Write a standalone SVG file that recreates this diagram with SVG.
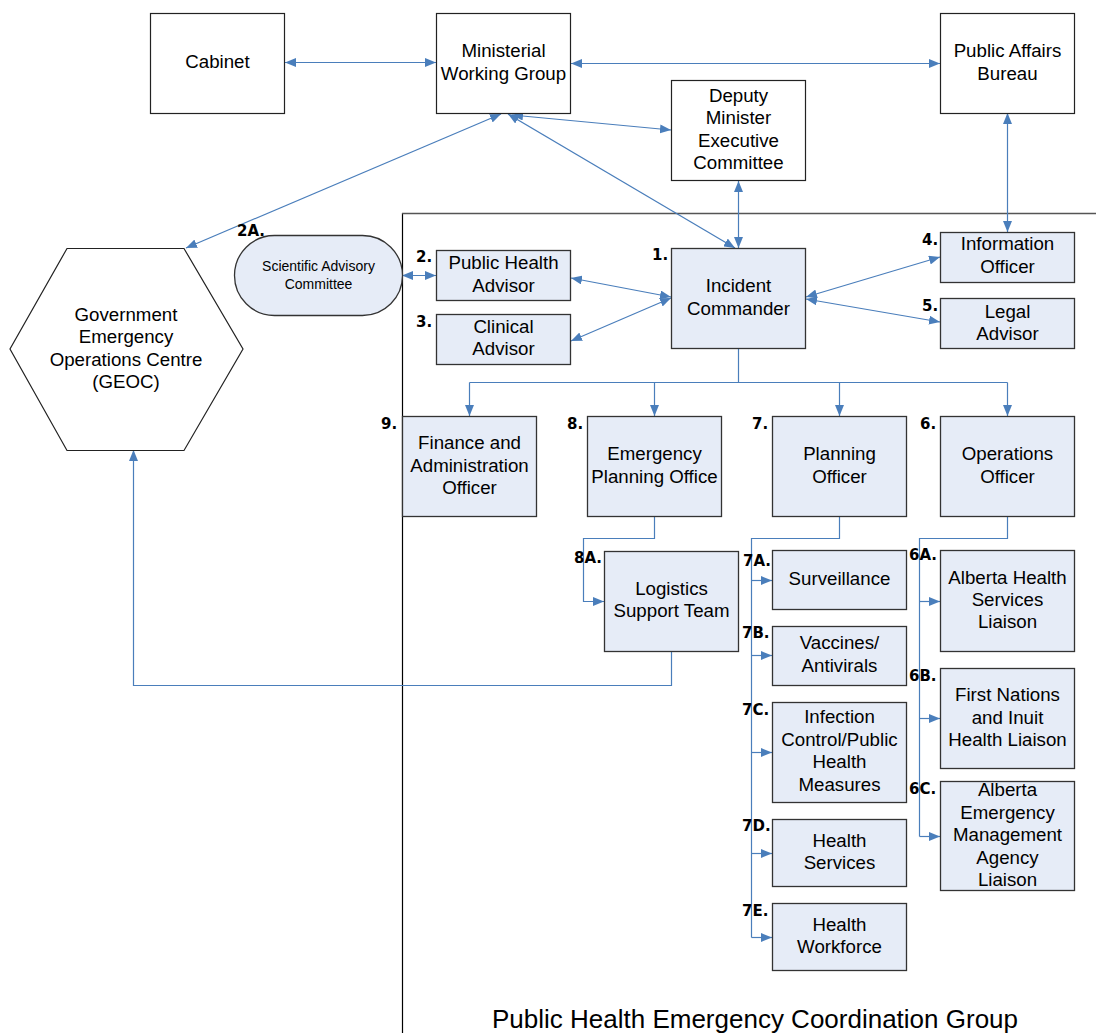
<svg xmlns="http://www.w3.org/2000/svg" width="1096" height="1033" viewBox="0 0 1096 1033">
<style>
.w{fill:#fff;stroke:#222;stroke-width:1.2}
.b{fill:#E6ECF7;stroke:#333;stroke-width:1.3}
.t{font-family:"Liberation Sans",Arial,sans-serif;font-size:18.7px;fill:#000;text-anchor:middle}
.s{font-family:"Liberation Sans",Arial,sans-serif;font-size:14px;fill:#000;text-anchor:middle}
.n{font-family:"DejaVu Sans",sans-serif;font-weight:bold;font-size:15px;fill:#000}
.c{fill:none;stroke:#4A7EBB;stroke-width:1.2}
.a{marker-end:url(#ah)}
.aa{marker-start:url(#ah);marker-end:url(#ah)}
</style>
<defs>
<marker id="ah" markerUnits="userSpaceOnUse" markerWidth="11" markerHeight="9" refX="11" refY="4.5" orient="auto-start-reverse">
<path d="M0,0 L11,4.5 L0,9 z" fill="#4A7EBB"/>
</marker>
</defs>
<rect width="1096" height="1033" fill="#fff"/>
<g id="frame">
<line x1="402.5" y1="213" x2="402.5" y2="1033" stroke="#000" stroke-width="1.2"/>
<line x1="402" y1="213.5" x2="1096" y2="213.5" stroke="#555" stroke-width="1.5"/>
<text x="755" y="1028" font-family="'Liberation Sans',Arial,sans-serif" font-size="26" text-anchor="middle">Public Health Emergency Coordination Group</text>
</g>
<g id="connectors">
<line class="c aa" x1="285" y1="62.5" x2="436" y2="62.5"/>
<line class="c aa" x1="571" y1="63.5" x2="940" y2="63.5"/>
<line class="c aa" x1="501" y1="114" x2="186" y2="248"/>
<line class="c aa" x1="508" y1="114" x2="735" y2="248"/>
<line class="c aa" x1="512" y1="115" x2="671" y2="130"/>
<line class="c aa" x1="738.5" y1="181" x2="738.5" y2="248"/>
<line class="c aa" x1="1007.5" y1="113" x2="1007.5" y2="232"/>
<line class="c aa" x1="402" y1="275.5" x2="436" y2="275.5"/>
<line class="c aa" x1="571" y1="278" x2="671" y2="297"/>
<line class="c aa" x1="571" y1="341" x2="671" y2="298"/>
<line class="c aa" x1="806" y1="297" x2="940" y2="257"/>
<line class="c aa" x1="806" y1="299" x2="940" y2="322"/>
<path class="c" d="M738.5,349 V382.5 M469.5,382.5 H1007.5"/>
<path class="c a" d="M469.5,382.5 V416"/>
<path class="c a" d="M654.5,382.5 V416"/>
<path class="c a" d="M839.5,382.5 V416"/>
<path class="c a" d="M1007.5,382.5 V416"/>
<path class="c a" d="M654.5,517 V538.5 H583.5 V601.5 H604"/>
<path class="c" d="M839.5,517 V538.5 H751.5 V937.5"/>
<path class="c a" d="M751.5,580.5 H772"/>
<path class="c a" d="M751.5,655.5 H772"/>
<path class="c a" d="M751.5,752.5 H772"/>
<path class="c a" d="M751.5,853.5 H772"/>
<path class="c a" d="M751.5,937.5 H772"/>
<path class="c" d="M1007.5,517 V538.5 H919.5 V836.5"/>
<path class="c a" d="M919.5,601.5 H940"/>
<path class="c a" d="M919.5,718.5 H940"/>
<path class="c a" d="M919.5,836.5 H940"/>
<path class="c a" d="M671.5,651 V685.5 H133.5 V450"/>
</g>
<g id="cabinet"><rect class="w" x="150.5" y="13.5" width="134" height="100"/><text class="t" x="217.5" y="68">Cabinet</text></g>
<g id="mwg"><rect class="w" x="436.5" y="13.5" width="134" height="100"/><text class="t" x="503.5" y="57">Ministerial</text><text class="t" x="503.5" y="80">Working Group</text></g>
<g id="pab"><rect class="w" x="940.5" y="13.5" width="134" height="100"/><text class="t" x="1007.5" y="57">Public Affairs</text><text class="t" x="1007.5" y="80">Bureau</text></g>
<g id="dmec"><rect class="w" x="671.5" y="80.5" width="134" height="100"/><text class="t" x="738.5" y="102">Deputy</text><text class="t" x="738.5" y="124">Minister</text><text class="t" x="738.5" y="147">Executive</text><text class="t" x="738.5" y="169">Committee</text></g>
<g id="geoc"><polygon class="w" points="67,248.5 184,248.5 243,349 184,450.5 67,450.5 10,349"/><text class="t" x="126" y="321">Government</text><text class="t" x="126" y="343">Emergency</text><text class="t" x="126" y="366">Operations Centre</text><text class="t" x="126" y="388">(GEOC)</text></g>
<g id="sac"><rect class="b" x="234.5" y="235.5" width="168" height="80" rx="40" ry="40"/><text class="s" x="318.5" y="271">Scientific Advisory</text><text class="s" x="318.5" y="289">Committee</text><text class="n" x="237" y="236">2A.</text></g>
<g id="pha"><rect class="b" x="436.5" y="250.5" width="134" height="50"/><text class="t" x="503.5" y="269">Public Health</text><text class="t" x="503.5" y="292">Advisor</text><text class="n" x="416" y="262">2.</text></g>
<g id="ca"><rect class="b" x="436.5" y="314.5" width="134" height="50"/><text class="t" x="503.5" y="333">Clinical</text><text class="t" x="503.5" y="355">Advisor</text><text class="n" x="416" y="327">3.</text></g>
<g id="ic"><rect class="b" x="671.5" y="248.5" width="134" height="100"/><text class="t" x="738.5" y="292">Incident</text><text class="t" x="738.5" y="315">Commander</text><text class="n" x="652" y="260">1.</text></g>
<g id="io"><rect class="b" x="940.5" y="232.5" width="134" height="50"/><text class="t" x="1007.5" y="250">Information</text><text class="t" x="1007.5" y="273">Officer</text><text class="n" x="922" y="245">4.</text></g>
<g id="la"><rect class="b" x="940.5" y="298.5" width="134" height="50"/><text class="t" x="1007.5" y="318">Legal</text><text class="t" x="1007.5" y="340">Advisor</text><text class="n" x="922" y="311">5.</text></g>
<g id="fao"><rect class="b" x="402.5" y="416.5" width="134" height="100"/><text class="t" x="469.5" y="449">Finance and</text><text class="t" x="469.5" y="472">Administration</text><text class="t" x="469.5" y="494">Officer</text><text class="n" x="381" y="429">9.</text></g>
<g id="epo"><rect class="b" x="587.5" y="416.5" width="134" height="100"/><text class="t" x="654.5" y="460">Emergency</text><text class="t" x="654.5" y="483">Planning Office</text><text class="n" x="567" y="429">8.</text></g>
<g id="po"><rect class="b" x="772.5" y="416.5" width="134" height="100"/><text class="t" x="839.5" y="460">Planning</text><text class="t" x="839.5" y="483">Officer</text><text class="n" x="752" y="429">7.</text></g>
<g id="oo"><rect class="b" x="940.5" y="416.5" width="134" height="100"/><text class="t" x="1007.5" y="460">Operations</text><text class="t" x="1007.5" y="483">Officer</text><text class="n" x="920" y="429">6.</text></g>
<g id="lst"><rect class="b" x="604.5" y="551.5" width="134" height="100"/><text class="t" x="671.5" y="595">Logistics</text><text class="t" x="671.5" y="617">Support Team</text><text class="n" x="574" y="563">8A.</text></g>
<g id="surv"><rect class="b" x="772.5" y="550.5" width="134" height="59"/><text class="t" x="839.5" y="585">Surveillance</text><text class="n" x="743" y="566">7A.</text></g>
<g id="vac"><rect class="b" x="772.5" y="626.5" width="134" height="59"/><text class="t" x="839.5" y="649">Vaccines/</text><text class="t" x="839.5" y="672">Antivirals</text><text class="n" x="742" y="638">7B.</text></g>
<g id="icp"><rect class="b" x="772.5" y="702.5" width="134" height="100"/><text class="t" x="839.5" y="723">Infection</text><text class="t" x="839.5" y="746">Control/Public</text><text class="t" x="839.5" y="768">Health</text><text class="t" x="839.5" y="791">Measures</text><text class="n" x="742" y="715">7C.</text></g>
<g id="hs"><rect class="b" x="772.5" y="819.5" width="134" height="67"/><text class="t" x="839.5" y="847">Health</text><text class="t" x="839.5" y="869">Services</text><text class="n" x="742" y="831">7D.</text></g>
<g id="hw"><rect class="b" x="772.5" y="903.5" width="134" height="67"/><text class="t" x="839.5" y="931">Health</text><text class="t" x="839.5" y="953">Workforce</text><text class="n" x="742" y="916">7E.</text></g>
<g id="ahs"><rect class="b" x="940.5" y="550.5" width="134" height="101"/><text class="t" x="1007.5" y="584">Alberta Health</text><text class="t" x="1007.5" y="606">Services</text><text class="t" x="1007.5" y="628">Liaison</text><text class="n" x="909" y="560">6A.</text></g>
<g id="fni"><rect class="b" x="940.5" y="668.5" width="134" height="100"/><text class="t" x="1007.5" y="701">First Nations</text><text class="t" x="1007.5" y="724">and Inuit</text><text class="t" x="1007.5" y="746">Health Liaison</text><text class="n" x="909" y="681">6B.</text></g>
<g id="aema"><rect class="b" x="940.5" y="781.5" width="134" height="109"/><text class="t" x="1007.5" y="796">Alberta</text><text class="t" x="1007.5" y="819">Emergency</text><text class="t" x="1007.5" y="841">Management</text><text class="t" x="1007.5" y="864">Agency</text><text class="t" x="1007.5" y="886">Liaison</text><text class="n" x="909" y="794">6C.</text></g>
</svg>
